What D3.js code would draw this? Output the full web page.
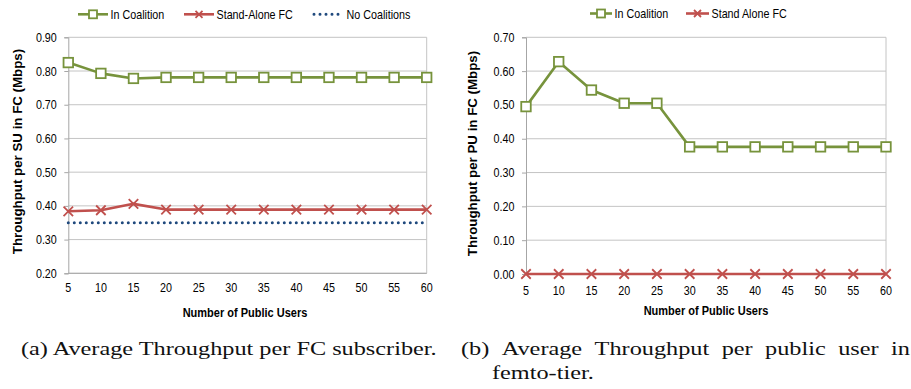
<!DOCTYPE html>
<html>
<head>
<meta charset="utf-8">
<script src="https://cdn.jsdelivr.net/npm/d3@7"></script>
<style>
  body { margin: 0; background: #fff; }
  svg { display: block; }
</style>
</head>
<body>
<script>
// Number of public users (shared category axis)
const users = [5, 10, 15, 20, 25, 30, 35, 40, 45, 50, 55, 60];

// (a) Average throughput per FC subscriber (Mbps)
const subscriberInCoalition = [0.825, 0.793, 0.778, 0.781, 0.781, 0.781, 0.781, 0.781, 0.781, 0.781, 0.781, 0.781];
const subscriberStandAlone  = [0.384, 0.387, 0.406, 0.389, 0.389, 0.389, 0.389, 0.389, 0.389, 0.389, 0.389, 0.389];
const subscriberNoCoalition = [0.350, 0.350, 0.350, 0.350, 0.350, 0.350, 0.350, 0.350, 0.350, 0.350, 0.350, 0.350];

// (b) Average throughput per public user in femto-tier (Mbps)
const publicInCoalition = [0.495, 0.628, 0.544, 0.505, 0.505, 0.376, 0.376, 0.376, 0.376, 0.376, 0.376, 0.376];
const publicStandAlone  = [0, 0, 0, 0, 0, 0, 0, 0, 0, 0, 0, 0];

// Value axis ticks
const ticksA = [0.20, 0.30, 0.40, 0.50, 0.60, 0.70, 0.80, 0.90];
const ticksB = [0.00, 0.10, 0.20, 0.30, 0.40, 0.50, 0.60, 0.70];

const GREEN = "#77933c", RED = "#c0504d", BLUE = "#1f497d";
const GRID = "#c4c4c4", AXIS = "#a6a6a6";
const SANS = "'Liberation Sans', Arial, sans-serif";
const SQX = 0.86; // narrow sans text

const svg = d3.select("body").append("svg")
  .attr("width", 911).attr("height", 389);

function narrowText(g, x, y, str, opts = {}) {
  return g.append("text")
    .attr("transform", `translate(${x},${y}) scale(${SQX},1)`)
    .attr("font-family", SANS)
    .attr("font-size", opts.size || 12.5)
    .attr("font-weight", opts.weight || "normal")
    .attr("text-anchor", opts.anchor || "start")
    .attr("fill", "#000")
    .text(str);
}

function squareMarker(g, x, y, s) {
  g.append("rect")
    .attr("x", x - s / 2).attr("y", y - s / 2)
    .attr("width", s).attr("height", s)
    .attr("fill", "#fff").attr("stroke", GREEN).attr("stroke-width", 1.8);
}
function crossMarker(g, x, y, s) {
  g.append("path")
    .attr("d", `M${x - s / 2},${y - s / 2}L${x + s / 2},${y + s / 2}M${x - s / 2},${y + s / 2}L${x + s / 2},${y - s / 2}`)
    .attr("stroke", RED).attr("stroke-width", 1.8).attr("fill", "none");
}

function drawPanel(cfg) {
  const g = svg.append("g");
  const x = d3.scalePoint().domain(users).range(cfg.xRange);
  const y = d3.scaleLinear().domain(cfg.yDomain).range(cfg.yRange);
  const [x0, x1] = cfg.xRange;

  // horizontal gridlines
  g.selectAll(null).data(cfg.ticks).enter().append("line")
    .attr("x1", x0).attr("x2", x1)
    .attr("y1", d => y(d)).attr("y2", d => y(d))
    .attr("stroke", GRID).attr("stroke-width", 1);
  // right border of plot area
  g.append("line").attr("x1", x1).attr("x2", x1)
    .attr("y1", y(cfg.yDomain[1])).attr("y2", y(cfg.yDomain[0]))
    .attr("stroke", GRID);
  // value axis line with small ticks
  const yAxis = d3.axisLeft(y).tickValues(cfg.ticks).tickSize(4).tickFormat("");
  const ya = g.append("g").attr("transform", `translate(${x0},0)`).call(yAxis);
  ya.selectAll("path, line").attr("stroke", AXIS);
  // category axis line
  g.append("line").attr("x1", x0).attr("x2", x1)
    .attr("y1", y(cfg.yDomain[0])).attr("y2", y(cfg.yDomain[0]))
    .attr("stroke", AXIS);

  // tick labels
  cfg.ticks.forEach(t => narrowText(g, x0 - 11.5, y(t) + 4.5, t.toFixed(2), { anchor: "end" }));
  users.forEach(u => narrowText(g, x(u), y(cfg.yDomain[0]) + cfg.xLabelDy, String(u), { anchor: "middle" }));

  // axis titles
  narrowText(g, (x0 + x1) / 2 + cfg.xTitleDx, cfg.xTitleY, "Number of Public Users", { weight: "bold", size: 12.8, anchor: "middle" });
  g.append("text")
    .attr("transform", `translate(${cfg.yTitleX},${cfg.yTitleY}) rotate(-90)`)
    .attr("font-family", SANS).attr("font-size", 13.3).attr("font-weight", "bold")
    .attr("text-anchor", "middle").text(cfg.yTitle);

  // series
  const line = d3.line().x((d, i) => x(users[i])).y(d => y(d));
  cfg.series.forEach(s => {
    const p = g.append("path").datum(s.values).attr("d", line)
      .attr("fill", "none").attr("stroke", s.color);
    if (s.type === "dots") {
      p.attr("stroke-width", 3).attr("stroke-linecap", "round").attr("stroke-dasharray", "0,6");
    } else {
      p.attr("stroke-width", 2.6).attr("stroke-linejoin", "round");
    }
    s.values.forEach((v, i) => {
      if (s.type === "square") squareMarker(g, x(users[i]), y(v), 9.5);
      if (s.type === "cross") crossMarker(g, x(users[i]), y(v), 9.5);
    });
  });

  // legend
  cfg.legend.forEach(l => {
    const ly = cfg.legendY;
    const seg = g.append("line").attr("x1", l.x1).attr("x2", l.x2)
      .attr("y1", ly).attr("y2", ly).attr("stroke", l.color);
    if (l.type === "dots") {
      seg.attr("stroke-width", 3).attr("stroke-linecap", "round").attr("stroke-dasharray", "0,6");
    } else {
      seg.attr("stroke-width", 2.6);
    }
    const mx = (l.x1 + l.x2) / 2;
    if (l.type === "square") squareMarker(g, mx, ly, 8);
    if (l.type === "cross") crossMarker(g, mx, ly, 7);
    narrowText(g, l.x2 + 2.5, ly + 4.5, l.label);
  });
}

drawPanel({
  xRange: [68.3, 426.7], yDomain: [0.2, 0.9], yRange: [273.3, 37.3], ticks: ticksA,
  xLabelDy: 19, xTitleY: 316.5, xTitleDx: -2.5,
  yTitle: "Throughput per SU in FC (Mbps)", yTitleX: 21.5, yTitleY: 151.5,
  series: [
    { values: subscriberNoCoalition, color: BLUE, type: "dots" },
    { values: subscriberStandAlone, color: RED, type: "cross" },
    { values: subscriberInCoalition, color: GREEN, type: "square" }
  ],
  legendY: 14.3,
  legend: [
    { x1: 78, x2: 108, color: GREEN, type: "square", label: "In Coalition" },
    { x1: 184, x2: 214, color: RED, type: "cross", label: "Stand-Alone FC" },
    { x1: 314, x2: 344, color: BLUE, type: "dots", label: "No Coalitions" }
  ]
});

drawPanel({
  xRange: [526, 886], yDomain: [0, 0.7], yRange: [274, 37.3], ticks: ticksB,
  xLabelDy: 20.5, xTitleY: 315, xTitleDx: 0,
  yTitle: "Throughput per PU in FC (Mbps)", yTitleX: 476.5, yTitleY: 153.5,
  series: [
    { values: publicStandAlone, color: RED, type: "cross" },
    { values: publicInCoalition, color: GREEN, type: "square" }
  ],
  legendY: 13.5,
  legend: [
    { x1: 590, x2: 612, color: GREEN, type: "square", label: "In Coalition" },
    { x1: 686, x2: 709, color: RED, type: "cross", label: "Stand Alone FC" }
  ]
});

// sub-figure captions: serif text stretched to the width of caption (a),
// caption (b) justified word by word across its column
const SERIF = "'Liberation Serif', 'Times New Roman', serif";
const CAP_SIZE = 18;
function serifWord(x, y, str, sx) {
  return svg.append("text")
    .attr("transform", `translate(${x},${y}) scale(${sx},1)`)
    .attr("font-family", SERIF).attr("font-size", CAP_SIZE).attr("fill", "#111")
    .text(str);
}
const capA = serifWord(21, 355, "(a) Average Throughput per FC subscriber.", 1);
const capStretch = 416 / capA.node().getComputedTextLength();
capA.attr("transform", `translate(21,355) scale(${capStretch},1)`);

function justified(x, y, words, width) {
  const nodes = words.map(w => serifWord(0, y, w, capStretch));
  const widths = nodes.map(n => n.node().getComputedTextLength() * capStretch);
  const gap = (width - d3.sum(widths)) / (words.length - 1);
  let cx = x;
  nodes.forEach((n, i) => {
    n.attr("transform", `translate(${cx},${y}) scale(${capStretch},1)`);
    cx += widths[i] + gap;
  });
}
justified(461, 355, ["(b)", "Average", "Throughput", "per", "public", "user", "in"], 449);
serifWord(492, 379, "femto-tier.", capStretch);
</script>
</body>
</html>
